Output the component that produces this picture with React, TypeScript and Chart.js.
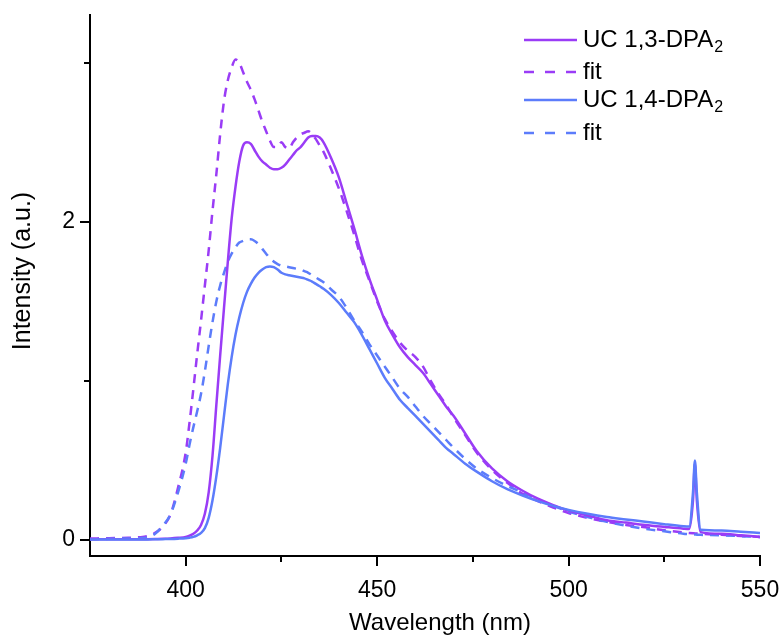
import React, { useEffect, useRef } from 'react';
import { Chart, registerables } from 'chart.js';

Chart.register(...registerables);

// ---- data ----
const wavelengths = [
  375, 380, 385, 388, 390, 392, 394, 396, 398, 400, 401, 402, 403, 404, 405, 406, 407, 408, 409, 410,
  411, 412, 413, 414, 415, 416, 417, 418, 419, 420, 421, 422, 423, 424, 425, 426, 427, 428, 429, 430,
  431, 432, 433, 434, 435, 436, 438, 440, 442, 444, 446, 448, 450, 452, 454, 456, 458, 460, 462, 464,
  466, 468, 470, 473, 476, 480, 484, 488, 492, 496, 500, 505, 510, 515, 520, 525, 530, 531.5, 532.5, 533,
  533.5, 534.5, 540, 545, 550,
];

const uc13 = [
  0.005, 0.005, 0.005, 0.005, 0.006, 0.007, 0.008, 0.01, 0.014, 0.02, 0.028, 0.04, 0.06, 0.095, 0.165, 0.3, 0.53, 0.85, 1.16, 1.46,
  1.75, 2.02, 2.22, 2.38, 2.48, 2.5, 2.49, 2.45, 2.41, 2.38, 2.36, 2.34, 2.33, 2.33, 2.34, 2.36, 2.39, 2.42, 2.45, 2.47,
  2.5, 2.53, 2.54, 2.54, 2.53, 2.5, 2.4, 2.28, 2.12, 1.96, 1.79, 1.64, 1.51, 1.38, 1.29, 1.21, 1.15, 1.1, 1.05, 0.98,
  0.91, 0.84, 0.78, 0.67, 0.56, 0.45, 0.37, 0.31, 0.26, 0.22, 0.185, 0.155, 0.125, 0.11, 0.095, 0.083, 0.072, 0.07, 0.25, 0.48,
  0.25, 0.05, 0.04, 0.03, 0.02,
];

const fit13 = [
  0.01, 0.012, 0.015, 0.018, 0.025, 0.045, 0.085, 0.16, 0.33, 0.55, 0.74, 0.95, 1.17, 1.38, 1.6, 1.82, 2.07, 2.3, 2.55, 2.76,
  2.89, 2.97, 3.02, 3.0, 2.94, 2.88, 2.83, 2.77, 2.7, 2.63, 2.57, 2.51, 2.47, 2.47, 2.5, 2.47, 2.46, 2.5, 2.53, 2.55,
  2.56, 2.57, 2.55, 2.52, 2.48, 2.44, 2.33, 2.21, 2.07, 1.92, 1.76, 1.63, 1.5, 1.39, 1.31, 1.24, 1.19, 1.15, 1.09, 1.0,
  0.92, 0.85, 0.77, 0.66, 0.55, 0.44, 0.36, 0.29, 0.245, 0.205, 0.17, 0.14, 0.115, 0.095, 0.08, 0.062, 0.048, 0.045, 0.043, 0.042,
  0.041, 0.04, 0.033, 0.026, 0.02,
];

const uc14 = [
  0.003, 0.003, 0.003, 0.004, 0.004, 0.005, 0.006, 0.007, 0.009, 0.012, 0.015, 0.02, 0.03, 0.045, 0.075, 0.14, 0.25, 0.4, 0.58, 0.78,
  0.98, 1.15, 1.29, 1.4, 1.49, 1.56, 1.61, 1.65, 1.68, 1.7, 1.715, 1.72, 1.715, 1.7, 1.68, 1.67, 1.665, 1.66, 1.655, 1.65,
  1.645, 1.635, 1.625, 1.61, 1.595, 1.58, 1.54, 1.49, 1.43, 1.37, 1.29, 1.2, 1.11, 1.02, 0.95, 0.88, 0.83, 0.78, 0.73, 0.68,
  0.63, 0.58, 0.54, 0.48, 0.43, 0.37, 0.32, 0.28, 0.245, 0.215, 0.19, 0.165, 0.145, 0.13, 0.115, 0.1, 0.087, 0.085, 0.3, 0.5,
  0.3, 0.065, 0.06, 0.052, 0.045,
];

const fit14 = [
  0.005, 0.008, 0.01, 0.012, 0.018, 0.04, 0.09, 0.16, 0.3, 0.48, 0.6, 0.71, 0.81, 0.92, 1.06, 1.22, 1.37, 1.5, 1.6, 1.68,
  1.75, 1.8, 1.84, 1.87, 1.88, 1.89, 1.89, 1.88, 1.86, 1.83, 1.8, 1.77, 1.75, 1.735, 1.725, 1.72, 1.715, 1.71, 1.705, 1.7,
  1.69, 1.68, 1.665, 1.65, 1.635, 1.62, 1.575, 1.53, 1.46, 1.38, 1.31, 1.23, 1.16, 1.09, 1.02, 0.95, 0.9, 0.84, 0.78, 0.73,
  0.68, 0.63, 0.58, 0.51, 0.45, 0.39, 0.34, 0.3, 0.255, 0.215, 0.18, 0.145, 0.115, 0.09, 0.07, 0.055, 0.04, 0.037, 0.035, 0.035,
  0.034, 0.033, 0.03, 0.025, 0.02,
];

const seriesLabels = ['UC 1,3-DPA', 'fit', 'UC 1,4-DPA', 'fit'];
const seriesSubscripts = ['2', '', '2', ''];

const xMajorTicks = [400, 450, 500, 550];
const xMinorTicks = [425, 475, 525];
const yMajorTicks = [0, 2];
const yMinorTicks = [1, 3];

const xTitle = 'Wavelength (nm)';
const yTitle = 'Intensity (a.u.)';

const PURPLE = '#9a3cf6';
const BLUE = '#5c7cfb';
const FONT = "'Liberation Sans', Arial, sans-serif";

const extrasPlugin = {
  id: 'extrasPlugin',
  afterDraw(chart: any) {
    const { ctx, chartArea, scales } = chart;
    const xs = scales.x;
    const ys = scales.y;
    ctx.save();
    ctx.strokeStyle = '#000';
    ctx.lineWidth = 2;
    ctx.setLineDash([]);
    ctx.beginPath();
    xMinorTicks.forEach((v) => {
      const px = Math.round(xs.getPixelForValue(v));
      ctx.moveTo(px, chartArea.bottom);
      ctx.lineTo(px, chartArea.bottom + 6);
    });
    yMinorTicks.forEach((v) => {
      const py = Math.round(ys.getPixelForValue(v));
      ctx.moveTo(chartArea.left - 6, py);
      ctx.lineTo(chartArea.left, py);
    });
    ctx.stroke();

    ctx.fillStyle = '#000';
    // x axis title
    ctx.textAlign = 'center';
    ctx.textBaseline = 'middle';
    ctx.font = `24px ${FONT}`;
    ctx.fillText(xTitle, 440, 623);

    // y axis title
    ctx.save();
    ctx.translate(23, 271);
    ctx.rotate(-Math.PI / 2);
    ctx.textAlign = 'center';
    ctx.textBaseline = 'middle';
    ctx.font = `25px ${FONT}`;
    ctx.fillText(yTitle, 0, 0);
    ctx.restore();

    // legend
    const rowsY = [40, 72, 100, 133];
    const lineX0 = 524;
    const lineX1 = 577;
    const textX = 583;
    chart.data.datasets.forEach((ds: any, i: number) => {
      const y = rowsY[i];
      ctx.strokeStyle = ds.borderColor;
      ctx.lineWidth = 2.5;
      ctx.setLineDash(ds.borderDash && ds.borderDash.length ? [10, 11] : []);
      ctx.beginPath();
      ctx.moveTo(lineX0, y);
      ctx.lineTo(lineX1, y);
      ctx.stroke();
      ctx.setLineDash([]);
      ctx.fillStyle = '#000';
      ctx.textBaseline = 'middle';
      ctx.textAlign = 'left';
      ctx.font = `24px ${FONT}`;
      ctx.fillText(seriesLabels[i], textX, y);
      const sub = seriesSubscripts[i];
      if (sub) {
        const w = ctx.measureText(seriesLabels[i]).width;
        ctx.font = `16px ${FONT}`;
        ctx.fillText(sub, textX + w + 1, y + 8);
      }
    });
    ctx.restore();
  },
};

export default function App() {
  const canvasRef = useRef<HTMLCanvasElement | null>(null);

  useEffect(() => {
    if (!canvasRef.current) return;
    const mk = (arr: number[]) => wavelengths.map((x, i) => ({ x, y: arr[i] }));
    const chart = new Chart(canvasRef.current, {
      type: 'line',
      data: {
        datasets: [
          { label: seriesLabels[0], data: mk(uc13), borderColor: PURPLE, borderWidth: 2.5, borderDash: [], order: 1 },
          { label: seriesLabels[1], data: mk(fit13), borderColor: PURPLE, borderWidth: 2.5, borderDash: [9, 7], order: 3 },
          { label: seriesLabels[2], data: mk(uc14), borderColor: BLUE, borderWidth: 2.5, borderDash: [], order: 0 },
          { label: seriesLabels[3], data: mk(fit14), borderColor: BLUE, borderWidth: 2.5, borderDash: [9, 7], order: 2 },
        ],
      },
      options: {
        animation: false,
        responsive: false,
        devicePixelRatio: 1,
        layout: { padding: { top: 15, right: 24, left: 0, bottom: 0 } },
        elements: {
          point: { radius: 0, hoverRadius: 0 },
          line: { cubicInterpolationMode: 'monotone', fill: false },
        },
        plugins: {
          legend: { display: false },
          tooltip: { enabled: false },
        },
        scales: {
          x: {
            type: 'linear',
            min: 375,
            max: 550,
            afterBuildTicks: (scale: any) => {
              scale.ticks = xMajorTicks.map((v) => ({ value: v }));
            },
            afterFit: (scale: any) => {
              scale.height = 79;
              scale.paddingLeft = 0;
              scale.paddingRight = 0;
            },
            grid: { display: true, drawOnChartArea: false, drawTicks: true, tickLength: 10, color: '#000', lineWidth: 2 },
            border: { display: true, color: '#000', width: 2 },
            ticks: {
              color: '#000',
              font: { family: FONT, size: 23 },
              padding: 11,
              maxRotation: 0,
              autoSkip: false,
              callback: (v: any) => String(v),
            },
            title: { display: false },
          },
          y: {
            type: 'linear',
            min: -0.1,
            max: 3.3,
            afterBuildTicks: (scale: any) => {
              scale.ticks = yMajorTicks.map((v) => ({ value: v }));
            },
            afterFit: (scale: any) => {
              scale.width = 90;
              scale.paddingTop = 0;
              scale.paddingBottom = 0;
            },
            grid: { display: true, drawOnChartArea: false, drawTicks: true, tickLength: 10, color: '#000', lineWidth: 2 },
            border: { display: true, color: '#000', width: 2 },
            ticks: {
              color: '#000',
              font: { family: FONT, size: 23 },
              padding: 5,
              autoSkip: false,
              callback: (v: any) => String(v),
            },
            title: { display: false },
          },
        },
      },
      plugins: [extrasPlugin],
    } as any);
    return () => chart.destroy();
  }, []);

  return (
    <div style={{ position: 'absolute', left: 0, top: 0, width: 784, height: 635, background: '#fff' }}>
      <canvas ref={canvasRef} width={784} height={635} />
    </div>
  );
}
